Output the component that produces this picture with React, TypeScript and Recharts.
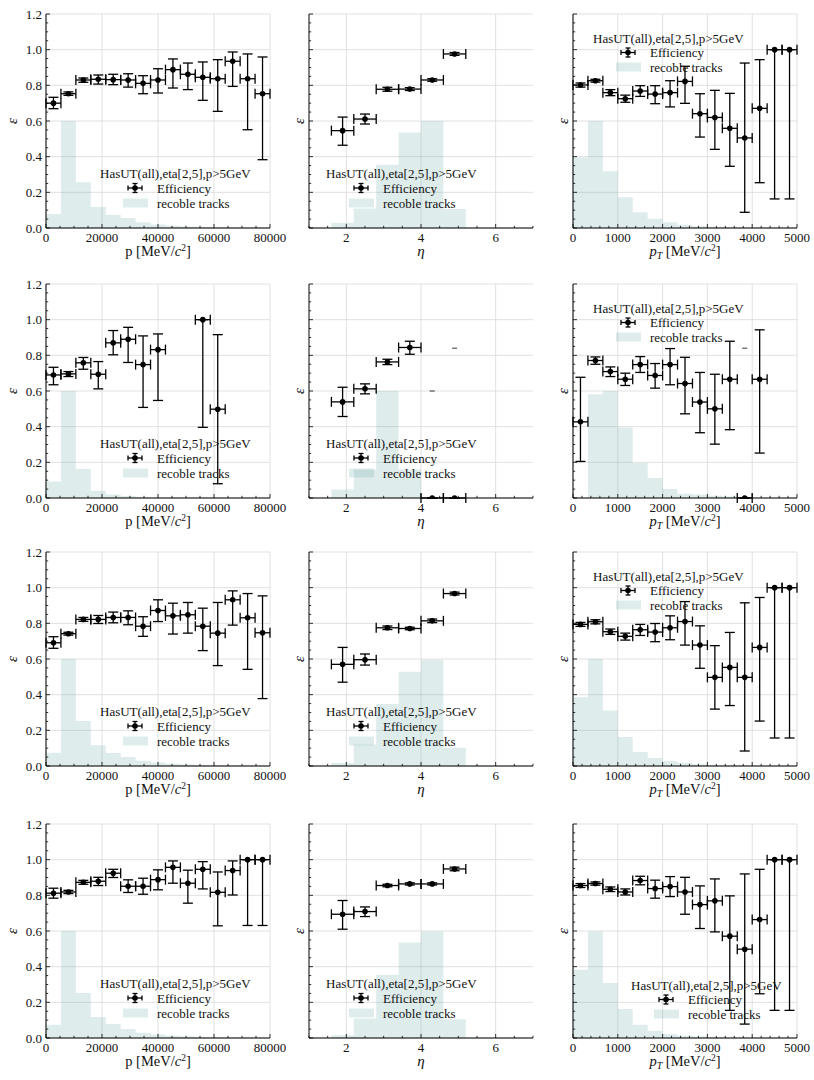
import React from 'react';
import { ComposedChart, Area, Scatter, ErrorBar, XAxis, YAxis, CartesianGrid } from 'recharts';

const FONT = '"Liberation Serif", "DejaVu Serif", "Times New Roman", serif';
const HIST_COLOR = '#5f9ea0';
const GRID_COLOR = '#d9d9d9';

// bin edges
const pEdges = [0, 5333.3, 10666.7, 16000, 21333.3, 26666.7, 32000, 37333.3, 42666.7, 48000, 53333.3, 58666.7, 64000, 69333.3, 74666.7, 80000];
const etaEdges = [1.6, 2.2, 2.8, 3.4, 4.0, 4.6, 5.2];
const ptEdges = [0, 333.3, 666.7, 1000, 1333.3, 1666.7, 2000, 2333.3, 2666.7, 3000, 3333.3, 3666.7, 4000, 4333.3, 4666.7, 5000];

// ticks
const pTicks = [0, 5000, 10000, 15000, 20000, 25000, 30000, 35000, 40000, 45000, 50000, 55000, 60000, 65000, 70000, 75000, 80000];
const pMajor = [0, 20000, 40000, 60000, 80000];
const etaTicks = [1, 1.5, 2, 2.5, 3, 3.5, 4, 4.5, 5, 5.5, 6, 6.5, 7];
const etaMajor = [2, 4, 6];
const ptTicks = [0, 200, 400, 600, 800, 1000, 1200, 1400, 1600, 1800, 2000, 2200, 2400, 2600, 2800, 3000, 3200, 3400, 3600, 3800, 4000, 4200, 4400, 4600, 4800, 5000];
const ptMajor = [0, 1000, 2000, 3000, 4000, 5000];
const yTicks = [0, 0.05, 0.1, 0.15, 0.2, 0.25, 0.3, 0.35, 0.4, 0.45, 0.5, 0.55, 0.6, 0.65, 0.7, 0.75, 0.8, 0.85, 0.9, 0.95, 1.0, 1.05, 1.1, 1.15, 1.2];
const yMajor = [0, 0.2, 0.4, 0.6, 0.8, 1.0, 1.2];

// ---- row 1
const pEff1 = [0.70, 0.753, 0.83, 0.834, 0.832, 0.83, 0.811, 0.83, 0.888, 0.862, 0.845, 0.837, 0.935, 0.837, 0.753];
const pLo1 = [0.669, 0.744, 0.817, 0.807, 0.804, 0.79, 0.753, 0.757, 0.785, 0.776, 0.716, 0.654, 0.794, 0.551, 0.383];
const pHi1 = [0.733, 0.763, 0.841, 0.858, 0.862, 0.865, 0.854, 0.893, 0.948, 0.925, 0.931, 0.944, 0.987, 0.976, 0.959];
const pHist1 = [0.078, 0.6, 0.256, 0.118, 0.075, 0.056, 0.032, 0.02, 0.013, 0.008, 0.005, 0.004, 0.003, 0.002, 0.001];

const etaEff1 = [0.546, 0.611, 0.778, 0.779, 0.83, 0.976];
const etaLo1 = [0.464, 0.583, 0.767, 0.771, 0.823, 0.968];
const etaHi1 = [0.622, 0.639, 0.789, 0.787, 0.837, 0.984];
const etaHist1 = [0.03, 0.11, 0.355, 0.536, 0.6, 0.107];

const ptEff1 = [0.802, 0.826, 0.759, 0.725, 0.768, 0.751, 0.759, 0.822, 0.641, 0.62, 0.559, 0.505, 0.671, 1.0, 1.0];
const ptLo1 = [0.79, 0.818, 0.742, 0.705, 0.738, 0.697, 0.679, 0.699, 0.51, 0.441, 0.346, 0.088, 0.254, 0.163, 0.163];
const ptHi1 = [0.813, 0.834, 0.776, 0.745, 0.798, 0.798, 0.826, 0.907, 0.753, 0.772, 0.755, 0.925, 0.944, 1.0, 1.0];
const ptHist1 = [0.396, 0.6, 0.318, 0.172, 0.088, 0.052, 0.032, 0.018, 0.01, 0.006, 0.004, 0.003, 0.002, 0.001, 0.001];

// ---- row 2
const pEff2 = [0.69, 0.696, 0.758, 0.694, 0.87, 0.89, 0.748, 0.832, null, null, 1.0, 0.498, null, null, null];
const pLo2 = [0.635, 0.681, 0.722, 0.612, 0.803, 0.76, 0.508, 0.547, null, null, 0.396, 0.08, null, null, null];
const pHi2 = [0.733, 0.709, 0.788, 0.765, 0.939, 0.957, 0.909, 0.92, null, null, 1.0, 0.916, null, null, null];
const pHist2 = [0.093, 0.6, 0.162, 0.041, 0.019, 0.011, 0.005, 0.002, 0.001, 0, 0.001, 0.001, 0, 0, 0];

const etaEff2 = [0.539, 0.612, 0.763, 0.844, 0, 0];
const etaLo2 = [0.457, 0.584, 0.748, 0.806, 0, 0];
const etaHi2 = [0.621, 0.64, 0.778, 0.879, 0, 0];
const etaCap2 = [null, null, null, null, 0.6, 0.84];
const etaHist2 = [0.047, 0.16, 0.6, 0.16, 0, 0];

const ptEff2 = [0.427, 0.771, 0.709, 0.666, 0.748, 0.687, 0.748, 0.642, 0.538, 0.5, 0.666, 0, 0.666, null, null];
const ptLo2 = [0.205, 0.75, 0.681, 0.631, 0.704, 0.616, 0.635, 0.472, 0.366, 0.302, 0.383, 0, 0.252, null, null];
const ptHi2 = [0.677, 0.791, 0.735, 0.7, 0.793, 0.754, 0.838, 0.789, 0.704, 0.694, 0.879, 0, 0.943, null, null];
const ptCap2 = [null, null, null, null, null, null, null, null, null, null, null, 0.84, null, null, null];
const ptHist2 = [0, 0.582, 0.6, 0.396, 0.196, 0.112, 0.05, 0.024, 0.019, 0.013, 0.009, 0, 0, 0, 0];

// ---- row 3
const pEff3 = [0.691, 0.742, 0.822, 0.822, 0.833, 0.833, 0.784, 0.872, 0.842, 0.848, 0.784, 0.745, 0.932, 0.831, 0.747];
const pLo3 = [0.66, 0.734, 0.811, 0.799, 0.803, 0.792, 0.727, 0.81, 0.74, 0.745, 0.647, 0.563, 0.79, 0.542, 0.378];
const pHi3 = [0.725, 0.75, 0.833, 0.844, 0.863, 0.87, 0.837, 0.932, 0.913, 0.917, 0.885, 0.917, 0.982, 0.967, 0.954];
const pHist3 = [0.075, 0.6, 0.252, 0.116, 0.073, 0.05, 0.03, 0.02, 0.012, 0.008, 0.005, 0.004, 0.003, 0.002, 0.001];

const etaEff3 = [0.57, 0.596, 0.775, 0.771, 0.814, 0.967];
const etaLo3 = [0.47, 0.566, 0.765, 0.764, 0.804, 0.959];
const etaHi3 = [0.665, 0.628, 0.785, 0.778, 0.824, 0.975];
const etaHist3 = [0.017, 0.12, 0.348, 0.529, 0.596, 0.102];

const ptEff3 = [0.794, 0.809, 0.753, 0.727, 0.764, 0.751, 0.775, 0.81, 0.678, 0.497, 0.553, 0.497, 0.665, 1.0, 1.0];
const ptLo3 = [0.783, 0.797, 0.738, 0.706, 0.732, 0.697, 0.708, 0.678, 0.548, 0.319, 0.339, 0.084, 0.252, 0.157, 0.157];
const ptHi3 = [0.805, 0.82, 0.768, 0.745, 0.794, 0.799, 0.842, 0.922, 0.786, 0.675, 0.749, 0.915, 0.945, 1.0, 1.0];
const ptHist3 = [0.386, 0.6, 0.311, 0.162, 0.078, 0.045, 0.028, 0.017, 0.01, 0.006, 0.004, 0.003, 0.002, 0.001, 0.001];

// ---- row 4
const pEff4 = [0.812, 0.819, 0.873, 0.879, 0.924, 0.851, 0.851, 0.888, 0.957, 0.868, 0.946, 0.817, 0.939, 1.0, 1.0];
const pLo4 = [0.784, 0.81, 0.862, 0.855, 0.9, 0.816, 0.806, 0.831, 0.868, 0.756, 0.836, 0.629, 0.802, 0.631, 0.631];
const pHi4 = [0.84, 0.828, 0.884, 0.901, 0.946, 0.887, 0.896, 0.943, 0.993, 0.941, 0.989, 0.931, 0.993, 1.0, 1.0];
const pHist4 = [0.075, 0.6, 0.252, 0.118, 0.078, 0.05, 0.03, 0.02, 0.012, 0.008, 0.005, 0.004, 0.003, 0.002, 0.001];

const etaEff4 = [0.694, 0.709, 0.855, 0.864, 0.864, 0.948];
const etaLo4 = [0.61, 0.681, 0.848, 0.858, 0.858, 0.938];
const etaHi4 = [0.771, 0.735, 0.862, 0.87, 0.87, 0.958];
const etaHist4 = [0.015, 0.11, 0.355, 0.536, 0.597, 0.105];

const ptEff4 = [0.855, 0.866, 0.834, 0.819, 0.883, 0.838, 0.849, 0.819, 0.748, 0.769, 0.571, 0.498, 0.664, 1.0, 1.0];
const ptLo4 = [0.844, 0.857, 0.821, 0.802, 0.859, 0.784, 0.793, 0.694, 0.614, 0.595, 0.155, 0.078, 0.248, 0.155, 0.155];
const ptHi4 = [0.866, 0.875, 0.847, 0.836, 0.907, 0.885, 0.905, 0.901, 0.853, 0.892, 0.797, 0.92, 0.946, 1.0, 1.0];
const ptHist4 = [0.383, 0.597, 0.308, 0.162, 0.075, 0.041, 0.022, 0.013, 0.008, 0.005, 0.003, 0.002, 0.001, 0.001, 0.001];

const LEGEND_TITLE = 'HasUT(all),eta[2,5],p>5GeV';

type Kind = 'p' | 'eta' | 'pt';
type Side = 'bottom' | 'top' | 'left' | 'right';

const AXES: Record<Kind, { domain: [number, number]; ticks: number[]; major: number[]; edges: number[] }> = {
  p: { domain: [0, 80000], ticks: pTicks, major: pMajor, edges: pEdges },
  eta: { domain: [1, 7], ticks: etaTicks, major: etaMajor, edges: etaEdges },
  pt: { domain: [0, 5000], ticks: ptTicks, major: ptMajor, edges: ptEdges },
};

// plot-area placement on the page
const COL_LEFT = [46, 309, 573];
const ROW_TOP = [14, 284, 552, 824];
const PLOT_W = 224;
const PLOT_H = 214;
const ML = 46; // space left of plot inside each chart box
const MT = 14;
const BOX_W = 290;
const BOX_H = 268;

interface PanelCfg {
  kind: Kind;
  row: number;
  col: number;
  eff: (number | null)[];
  lo: (number | null)[];
  hi: (number | null)[];
  hist: number[];
  caps?: (number | null)[];
  legend: { dx: number; dy: number; gap: number };
}

const LOW_P = { dx: 54, dy: 159, gap: 15 };
const LOW_ETA = { dx: 17, dy: 159, gap: 15 };
const UP_PT = { dx: 20, dy: 24, gap: 14.5 };
const LOW_PT = { dx: 58, dy: 161, gap: 14.5 };

const panels: PanelCfg[] = [
  { kind: 'p', row: 0, col: 0, eff: pEff1, lo: pLo1, hi: pHi1, hist: pHist1, legend: LOW_P },
  { kind: 'eta', row: 0, col: 1, eff: etaEff1, lo: etaLo1, hi: etaHi1, hist: etaHist1, legend: LOW_ETA },
  { kind: 'pt', row: 0, col: 2, eff: ptEff1, lo: ptLo1, hi: ptHi1, hist: ptHist1, legend: UP_PT },
  { kind: 'p', row: 1, col: 0, eff: pEff2, lo: pLo2, hi: pHi2, hist: pHist2, legend: LOW_P },
  { kind: 'eta', row: 1, col: 1, eff: etaEff2, lo: etaLo2, hi: etaHi2, hist: etaHist2, caps: etaCap2, legend: LOW_ETA },
  { kind: 'pt', row: 1, col: 2, eff: ptEff2, lo: ptLo2, hi: ptHi2, hist: ptHist2, caps: ptCap2, legend: UP_PT },
  { kind: 'p', row: 2, col: 0, eff: pEff3, lo: pLo3, hi: pHi3, hist: pHist3, legend: LOW_P },
  { kind: 'eta', row: 2, col: 1, eff: etaEff3, lo: etaLo3, hi: etaHi3, hist: etaHist3, legend: LOW_ETA },
  { kind: 'pt', row: 2, col: 2, eff: ptEff3, lo: ptLo3, hi: ptHi3, hist: ptHist3, legend: UP_PT },
  { kind: 'p', row: 3, col: 0, eff: pEff4, lo: pLo4, hi: pHi4, hist: pHist4, legend: LOW_P },
  { kind: 'eta', row: 3, col: 1, eff: etaEff4, lo: etaLo4, hi: etaHi4, hist: etaHist4, legend: LOW_ETA },
  { kind: 'pt', row: 3, col: 2, eff: ptEff4, lo: ptLo4, hi: ptHi4, hist: ptHist4, legend: LOW_PT },
];

const isIn = (list: number[], v: number) => list.some((m) => Math.abs(m - v) < 1e-6);

// inward ticks, drawn by hand so minor/major lengths differ
function tickRenderer(side: Side, major: number[], fmt?: (v: number) => string) {
  return (props: any) => {
    const { x, y, payload } = props;
    const v = Number(payload.value);
    const big = isIn(major, v);
    const len = big ? 4 : 2.2;
    let x2 = x;
    let y2 = y;
    if (side === 'bottom') y2 = y - len;
    if (side === 'top') y2 = y + len;
    if (side === 'left') x2 = x + len;
    if (side === 'right') x2 = x - len;
    let label = null;
    if (big && fmt) {
      if (side === 'bottom') {
        label = (
          <text x={x} y={y + 14} textAnchor="middle" fontSize={13} fontFamily={FONT} fill="#111">
            {fmt(v)}
          </text>
        );
      } else if (side === 'left') {
        label = (
          <text x={x - 4} y={y + 4.5} textAnchor="end" fontSize={13} fontFamily={FONT} fill="#111">
            {fmt(v)}
          </text>
        );
      }
    }
    return (
      <g>
        <line x1={x} y1={y} x2={x2} y2={y2} stroke="#000" strokeWidth={0.8} />
        {label}
      </g>
    );
  };
}

const dot = (p: any) => <circle cx={p.cx} cy={p.cy} r={2.8} fill="#000" />;
const capMark = (p: any) => (
  <line x1={p.cx - 2.5} x2={p.cx + 2.5} y1={p.cy} y2={p.cy} stroke="#333" strokeWidth={1} />
);

function XTitle({ kind, x, y }: { kind: Kind; x: number; y: number }) {
  if (kind === 'eta') {
    return (
      <text x={x} y={y} textAnchor="middle" fontSize={15} fontStyle="italic" fontFamily={FONT} fill="#111">
        η
      </text>
    );
  }
  return (
    <text x={x} y={y} textAnchor="middle" fontSize={14.5} fontFamily={FONT} fill="#111">
      {kind === 'pt' ? (
        <>
          <tspan fontStyle="italic">p</tspan>
          <tspan fontStyle="italic" fontSize={10} dy={3}>T</tspan>
          <tspan dy={-3}>{' [MeV/'}</tspan>
        </>
      ) : (
        <tspan>{'p [MeV/'}</tspan>
      )}
      <tspan fontStyle="italic">c</tspan>
      <tspan fontSize={9.5} dy={-5}>2</tspan>
      <tspan dy={5}>]</tspan>
    </text>
  );
}

function LegendBox({ x, y, gap }: { x: number; y: number; gap: number }) {
  const mx = x + 35;
  const y1 = y + gap;
  const y2 = y + gap * 2;
  return (
    <g fontFamily={FONT} fontSize={13} fill="#111">
      <text x={x} y={y + 4.5}>{LEGEND_TITLE}</text>
      <line x1={mx - 7} x2={mx + 7} y1={y1} y2={y1} stroke="#000" strokeWidth={1.3} />
      <line x1={mx - 7} x2={mx - 7} y1={y1 - 2.5} y2={y1 + 2.5} stroke="#000" strokeWidth={1.3} />
      <line x1={mx + 7} x2={mx + 7} y1={y1 - 2.5} y2={y1 + 2.5} stroke="#000" strokeWidth={1.3} />
      <line x1={mx} x2={mx} y1={y1 - 4.5} y2={y1 + 4.5} stroke="#000" strokeWidth={1.3} />
      <line x1={mx - 2.5} x2={mx + 2.5} y1={y1 - 4.5} y2={y1 - 4.5} stroke="#000" strokeWidth={1.3} />
      <line x1={mx - 2.5} x2={mx + 2.5} y1={y1 + 4.5} y2={y1 + 4.5} stroke="#000" strokeWidth={1.3} />
      <circle cx={mx} cy={y1} r={2.8} fill="#000" />
      <text x={x + 57} y={y1 + 4.5}>Efficiency</text>
      <rect x={x + 23} y={y2 - 4.5} width={25} height={9} fill={HIST_COLOR} fillOpacity={0.2} />
      <text x={x + 57} y={y2 + 4.5}>recoble tracks</text>
    </g>
  );
}

function Panel({ cfg }: { cfg: PanelCfg }) {
  const ax = AXES[cfg.kind];
  const edges = ax.edges;
  const histData = edges.map((e, i) => ({ x: e, h: cfg.hist[Math.min(i, cfg.hist.length - 1)] }));
  const points: any[] = [];
  const capPts: any[] = [];
  for (let i = 0; i < edges.length - 1; i++) {
    const c = (edges[i] + edges[i + 1]) / 2;
    const half = (edges[i + 1] - edges[i]) / 2;
    const v = cfg.eff[i];
    if (v != null) {
      points.push({ x: c, y: v, ex: half, ey: [v - (cfg.lo[i] as number), (cfg.hi[i] as number) - v] });
    }
    if (cfg.caps && cfg.caps[i] != null) capPts.push({ x: c, y: cfg.caps[i] });
  }
  const left = COL_LEFT[cfg.col] - ML;
  const top = ROW_TOP[cfg.row] - MT;
  const xFmt = (v: number) => String(v);
  const yFmt = cfg.col === 0 ? (v: number) => v.toFixed(1) : undefined;
  const epsX = cfg.col === 0 ? ML - 34 : ML - 10;

  return (
    <div style={{ position: 'absolute', left, top, width: BOX_W, height: BOX_H }}>
      <ComposedChart
        width={BOX_W}
        height={BOX_H}
        data={histData}
        margin={{ top: MT, right: BOX_W - ML - PLOT_W, bottom: 0, left: 0 }}
      >
        <CartesianGrid
          stroke={GRID_COLOR}
          strokeWidth={0.8}
          horizontalValues={yMajor}
          verticalValues={ax.major}
        />
        <XAxis
          dataKey="x"
          type="number"
          domain={ax.domain}
          ticks={ax.ticks}
          interval={0}
          allowDataOverflow
          height={BOX_H - MT - PLOT_H}
          tickSize={0}
          tickMargin={0}
          tickLine={false}
          axisLine={{ stroke: '#000', strokeWidth: 1 }}
          tick={tickRenderer('bottom', ax.major, xFmt)}
        />
        <XAxis
          xAxisId="top"
          orientation="top"
          dataKey="x"
          type="number"
          domain={ax.domain}
          ticks={ax.ticks}
          interval={0}
          allowDataOverflow
          height={0}
          tickSize={0}
          tickMargin={0}
          tickLine={false}
          axisLine={{ stroke: '#000', strokeWidth: 1 }}
          tick={tickRenderer('top', ax.major)}
        />
        <YAxis
          type="number"
          domain={[0, 1.2]}
          ticks={yTicks}
          interval={0}
          allowDataOverflow
          width={ML}
          tickSize={0}
          tickMargin={0}
          tickLine={false}
          axisLine={{ stroke: '#000', strokeWidth: 1 }}
          tick={tickRenderer('left', yMajor, yFmt)}
        />
        <YAxis
          yAxisId="right"
          orientation="right"
          type="number"
          domain={[0, 1.2]}
          ticks={yTicks}
          interval={0}
          allowDataOverflow
          width={0}
          tickSize={0}
          tickMargin={0}
          tickLine={false}
          axisLine={{ stroke: '#000', strokeWidth: 1 }}
          tick={tickRenderer('right', yMajor)}
        />
        <Area
          dataKey="h"
          type="stepAfter"
          stroke="none"
          fill={HIST_COLOR}
          fillOpacity={0.2}
          dot={false}
          activeDot={false}
          isAnimationActive={false}
        />
        <Scatter data={points} dataKey="y" shape={dot} isAnimationActive={false}>
          <ErrorBar dataKey="ex" direction="x" width={5} stroke="#000" strokeWidth={1.3} isAnimationActive={false} />
          <ErrorBar dataKey="ey" direction="y" width={5} stroke="#000" strokeWidth={1.3} isAnimationActive={false} />
        </Scatter>
        {capPts.length > 0 && (
          <Scatter data={capPts} dataKey="y" shape={capMark} isAnimationActive={false} />
        )}
      </ComposedChart>
      <svg
        width={BOX_W}
        height={BOX_H}
        style={{ position: 'absolute', left: 0, top: 0, pointerEvents: 'none', overflow: 'visible' }}
      >
        <text
          x={epsX}
          y={MT + PLOT_H / 2}
          transform={`rotate(-90 ${epsX} ${MT + PLOT_H / 2})`}
          textAnchor="middle"
          dominantBaseline="central"
          fontSize={15}
          fontStyle="italic"
          fontFamily={FONT}
          fill="#111"
        >
          ε
        </text>
        <XTitle kind={cfg.kind} x={ML + PLOT_W / 2} y={MT + PLOT_H + 28} />
        <LegendBox x={ML + cfg.legend.dx} y={MT + cfg.legend.dy} gap={cfg.legend.gap} />
      </svg>
    </div>
  );
}

export default function App() {
  return (
    <div
      style={{
        position: 'absolute',
        left: 0,
        top: 0,
        width: 814,
        height: 1080,
        overflow: 'hidden',
        background: '#fff',
        fontFamily: FONT,
      }}
    >
      {panels.map((cfg, i) => (
        <Panel key={i} cfg={cfg} />
      ))}
    </div>
  );
}
